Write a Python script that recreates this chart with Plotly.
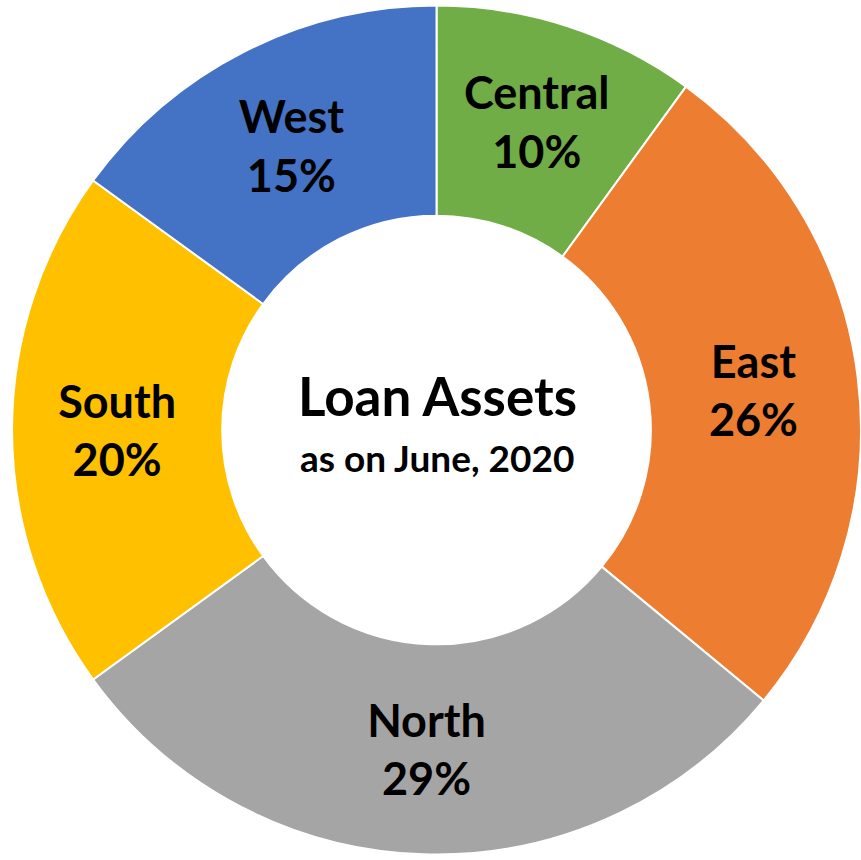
import plotly.graph_objects as go

regions = ["Central", "East", "North", "South", "West"]
shares = [10, 26, 29, 20, 15]
slice_colors = ["#70AD47", "#ED7D31", "#A5A5A5", "#FFC000", "#4472C4"]
center_title = "Loan Assets"
center_sub = "as on June, 2020"


def main():
    fig = go.Figure(go.Pie(
        labels=regions,
        values=shares,
        hole=0.505,
        sort=False,
        direction="clockwise",
        rotation=0,
        marker=dict(colors=slice_colors, line=dict(color="white", width=2)),
        texttemplate="<b>%{label}</b><br><b>%{percent:.0%}</b>",
        textposition="inside",
        insidetextorientation="horizontal",
        textfont=dict(family="Lato", size=45, color="black"),
        showlegend=False,
        domain=dict(x=[0.014, 1], y=[0, 1]),
    ))

    fig.add_annotation(
        x=0.508, y=0.54, xref="paper", yref="paper",
        text="<b>" + center_title + "</b>", showarrow=False,
        font=dict(family="Lato", size=53, color="black"),
    )
    fig.add_annotation(
        x=0.508, y=0.468, xref="paper", yref="paper",
        text="<b>" + center_sub + "</b>", showarrow=False,
        font=dict(family="Lato", size=37, color="black"),
    )

    fig.update_layout(
        width=861, height=860,
        margin=dict(l=0, r=0, t=0, b=0),
        paper_bgcolor="white",
        plot_bgcolor="white",
        uniformtext=dict(minsize=45, mode="show"),
    )
    # drop the default page margin so the chart fills the window
    fig.write_html("out.html",
                   config={"displayModeBar": False},
                   post_script="document.body.style.margin='0';"
                               "document.body.style.overflow='hidden';")


if __name__ == '__main__':
    main()
